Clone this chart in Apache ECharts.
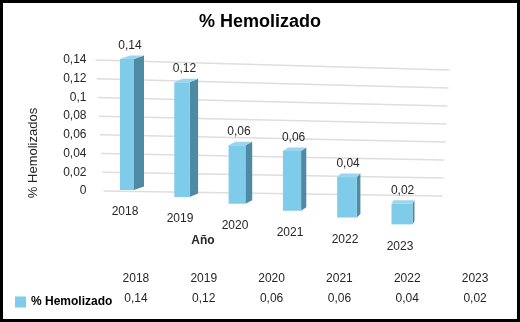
<!DOCTYPE html>
<html>
<head>
<meta charset="utf-8">
<script src="https://cdn.jsdelivr.net/npm/echarts@6/dist/echarts.min.js"></script>
<style>
html,body{margin:0;padding:0;background:#fff;}
#c{width:520px;height:322px;}
</style>
</head>
<body>
<div id="c"></div>
<script>
const categories = ['2018', '2019', '2020', '2021', '2022', '2023'];
const hemolizado = [0.14, 0.12, 0.06, 0.06, 0.04, 0.02];
const yTicks = [0, 0.02, 0.04, 0.06, 0.08, 0.1, 0.12, 0.14];
const seriesName = '% Hemolizado';

const FONT = '"Liberation Sans", Arial, sans-serif';
const TXT = '#262626';
function fmt(v) { return String(Math.round(v * 100) / 100).replace('.', ','); }

const chart = echarts.init(document.getElementById('c'), null, { renderer: 'canvas' });

function renderBar(params, api) {
  const i = params.dataIndex;
  const v = api.value(1);
  const cs = params.coordSys;
  const band = api.size([1, 0])[0];
  const base = api.coord([i, 0]);
  const top = api.coord([i, v]);
  const cx = base[0];
  const x0 = cs.x + band / 2;
  const dy = 0.125 * (cx - x0) - 1;
  const persp = 1 + 0.02 * i;
  const yb = base[1] + dy;
  const yt = yb - (base[1] - top[1]) * persp;
  const fw = 14 + i * 1.4;
  const sw = 10 - i * 1.6;
  const d = 3.5;
  const xl = cx - fw / 2, xr = cx + fw / 2;
  return {
    type: 'group',
    children: [
      { type: 'polygon', shape: { points: [[xr, yt], [xr + sw, yt - d], [xr + sw, yb - d], [xr, yb]] },
        style: { fill: '#4f8aa4' } },
      { type: 'rect', shape: { x: xl, y: yt, width: fw, height: yb - yt },
        style: { fill: '#7fcbea' } },
      { type: 'polygon', shape: { points: [[xl, yt], [xr, yt], [xr + sw, yt - d], [xl + sw, yt - d]] },
        style: { fill: '#9ad7ef' } },
      { type: 'text', x: cx + sw * 0.3, y: yt - d - 10,
        style: { text: fmt(v), fill: TXT, font: '12px ' + FONT, align: 'center', verticalAlign: 'middle' } },
      { type: 'text', x: cx - 2, y: yb + 22,
        style: { text: categories[i], fill: TXT, font: '12px ' + FONT, align: 'center', verticalAlign: 'middle' } }
    ]
  };
}

function renderGrid(params, api) {
  const v = api.value(0);
  const cs = params.coordSys;
  const max = yTicks[yTicks.length - 1];
  const r = v / max;
  const yL = api.coord([0, v])[1];
  const xL = cs.x - 4 + 8 * (1 - r);
  const xR = cs.x + cs.width + 20 - 7 * (1 - r);
  const yR = yL + 5 + 5 * r;
  return { type: 'line', shape: { x1: xL, y1: yL, x2: xR, y2: yR },
    style: { stroke: '#dedede', lineWidth: 1.5 } };
}

function renderTable(params, api) {
  const i = params.dataIndex;
  const cs = params.coordSys;
  const cx = api.coord([i, 0])[0];
  return {
    type: 'group',
    children: [
      { type: 'text', x: cx, y: cs.y, style: { text: categories[i], fill: TXT, font: '12px ' + FONT, align: 'center', verticalAlign: 'middle' } },
      { type: 'text', x: cx, y: cs.y + cs.height, style: { text: fmt(api.value(1)), fill: TXT, font: '12px ' + FONT, align: 'center', verticalAlign: 'middle' } }
    ]
  };
}

chart.setOption({
  animation: false,
  backgroundColor: '#fff',
  title: {
    text: '% Hemolizado', left: 'center', top: 8,
    textStyle: { fontFamily: FONT, fontSize: 18, fontWeight: 'bold', color: '#000' }
  },
  legend: {
    data: [seriesName], left: 10, top: 291, icon: 'rect', itemWidth: 11, itemHeight: 11, itemGap: 5,
    textStyle: { fontFamily: FONT, fontSize: 12, fontWeight: 'bold', color: '#000' }
  },
  grid: [
    { left: 99.5, right: 90.5, top: 60, bottom: 131 },
    { left: 102, right: 11, top: 279, height: 20 }
  ],
  xAxis: [
    { type: 'category', data: categories, gridIndex: 0, show: false },
    { type: 'category', data: categories, gridIndex: 1, show: false }
  ],
  yAxis: [
    { type: 'value', gridIndex: 0, min: 0, max: 0.14, interval: 0.02,
      axisLine: { show: false }, axisTick: { show: false }, splitLine: { show: false },
      axisLabel: { margin: 13, formatter: fmt, fontFamily: FONT, fontSize: 12, color: TXT } },
    { type: 'value', gridIndex: 1, min: 0, max: 1, show: false }
  ],
  graphic: [
    { type: 'text', x: 33, y: 153, rotation: Math.PI / 2,
      style: { text: '% Hemolizados', font: '13px ' + FONT, fill: TXT, align: 'center', verticalAlign: 'middle' } },
    { type: 'text', x: 203, y: 241,
      style: { text: 'Año', font: 'bold 12px ' + FONT, fill: TXT, align: 'center', verticalAlign: 'middle' } },
    { type: 'rect', shape: { x: 1.5, y: 1.5, width: 517, height: 319 }, z: 100,
      style: { fill: 'none', stroke: '#000', lineWidth: 3 } }
  ],
  series: [
    { type: 'custom', name: 'grid', xAxisIndex: 0, yAxisIndex: 0, silent: true, z: 1,
      renderItem: renderGrid, data: yTicks.map(v => [v]), encode: { y: 0 } },
    { type: 'custom', name: seriesName, xAxisIndex: 0, yAxisIndex: 0, z: 2,
      itemStyle: { color: '#7fcbea' },
      renderItem: renderBar, data: hemolizado.map((v, i) => [i, v]) },
    { type: 'custom', name: 'table', xAxisIndex: 1, yAxisIndex: 1, silent: true,
      renderItem: renderTable, data: hemolizado.map((v, i) => [i, v]) }
  ]
});
</script>
</body>
</html>
